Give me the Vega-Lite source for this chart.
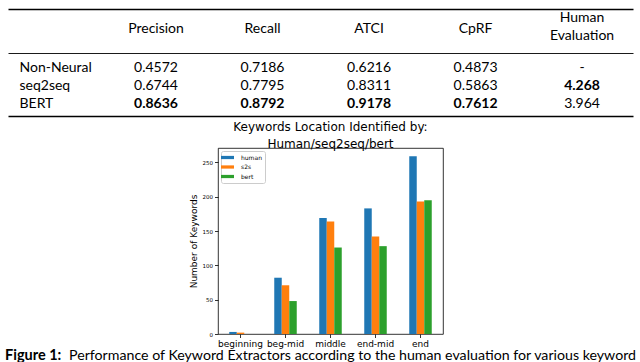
{
  "$schema": "https://vega.github.io/schema/vega-lite/v6.json",
  "background": "white",
  "padding": {"left": 5, "top": 9, "right": 0, "bottom": 0},
  "config": {
    "view": {"stroke": null},
    "text": {"color": "black"},
    "axis": {"labelColor": "black", "titleColor": "black", "tickColor": "black", "domainColor": "black", "grid": false}
  },
  "resolve": {"scale": {"color": "independent"}, "legend": {"color": "independent"}},
  "spacing": 4,
  "vconcat": [
    {
      "width": 625,
      "height": 40,
      "data": {"values": [
        {"metric": "Precision", "lines": 1}, {"metric": "Recall", "lines": 1}, {"metric": "ATCI", "lines": 1}, {"metric": "CpRF", "lines": 1}, {"metric": "Human Evaluation", "lines": 2}
      ]},
      "encoding": {
        "x": {"field": "metric", "type": "nominal", "sort": null,
          "scale": {"type": "point", "domain": ["Precision", "Recall", "ATCI", "CpRF", "Human Evaluation"], "padding": 0.934, "align": 0.744},
          "axis": {"orient": "top", "domain": true, "domainWidth": 1.6, "labels": false, "ticks": false, "title": null}},
        "text": {"field": "metric"}
      },
      "layer": [
        {
          "transform": [{"filter": "datum.lines == 1"}],
          "mark": {"type": "text", "font": "Lato", "fontSize": 14, "baseline": "middle", "dy": 0}
        },
        {
          "transform": [{"filter": "datum.lines == 2"}],
          "mark": {"type": "text", "font": "Lato", "fontSize": 14, "lineBreak": " ", "lineHeight": 18, "baseline": "middle", "dy": -11}
        }
      ]
    },
    {
      "width": 625,
      "height": 63,
      "data": {"values": [
        {"model": "Non-Neural", "metric": "Precision", "value": "0.4572", "bold": false},
        {"model": "Non-Neural", "metric": "Recall", "value": "0.7186", "bold": false},
        {"model": "Non-Neural", "metric": "ATCI", "value": "0.6216", "bold": false},
        {"model": "Non-Neural", "metric": "CpRF", "value": "0.4873", "bold": false},
        {"model": "Non-Neural", "metric": "Human Evaluation", "value": "-", "bold": false},
        {"model": "seq2seq", "metric": "Precision", "value": "0.6744", "bold": false},
        {"model": "seq2seq", "metric": "Recall", "value": "0.7795", "bold": false},
        {"model": "seq2seq", "metric": "ATCI", "value": "0.8311", "bold": false},
        {"model": "seq2seq", "metric": "CpRF", "value": "0.5863", "bold": false},
        {"model": "seq2seq", "metric": "Human Evaluation", "value": "4.268", "bold": true},
        {"model": "BERT", "metric": "Precision", "value": "0.8636", "bold": true},
        {"model": "BERT", "metric": "Recall", "value": "0.8792", "bold": true},
        {"model": "BERT", "metric": "ATCI", "value": "0.9178", "bold": true},
        {"model": "BERT", "metric": "CpRF", "value": "0.7612", "bold": true},
        {"model": "BERT", "metric": "Human Evaluation", "value": "3.964", "bold": false}
      ]},
      "resolve": {"axis": {"x": "independent"}},
      "layer": [
        {
          "transform": [{"filter": "!datum.bold"}],
          "mark": {"type": "text", "font": "Lato", "fontSize": 14, "baseline": "middle"},
          "encoding": {
            "x": {"field": "metric", "type": "nominal",
              "scale": {"type": "point", "domain": ["Precision", "Recall", "ATCI", "CpRF", "Human Evaluation"], "padding": 0.934, "align": 0.744},
              "axis": {"orient": "top", "domain": true, "domainWidth": 0.9, "labels": false, "ticks": false, "title": null}},
            "y": {"field": "model", "type": "nominal",
              "scale": {"type": "band", "domain": ["Non-Neural", "seq2seq", "BERT"], "paddingInner": 0, "paddingOuter": 0.25, "align": 0.69},
              "axis": {"orient": "left", "domain": false, "ticks": false, "labelAlign": "left", "labelPadding": -11, "labelFont": "Lato", "labelFontSize": 14, "title": null}},
            "text": {"field": "value"}
          }
        },
        {
          "transform": [{"filter": "datum.bold"}],
          "mark": {"type": "text", "font": "Lato", "fontSize": 14, "fontWeight": "bold", "baseline": "middle"},
          "encoding": {
            "x": {"field": "metric", "type": "nominal",
              "scale": {"type": "point", "domain": ["Precision", "Recall", "ATCI", "CpRF", "Human Evaluation"], "padding": 0.934, "align": 0.744},
              "axis": {"orient": "bottom", "domain": true, "domainWidth": 1.6, "labels": false, "ticks": false, "title": null}},
            "y": {"field": "model", "type": "nominal"},
            "text": {"field": "value"}
          }
        }
      ]
    },
    {
      "spacing": -1,
      "resolve": {"scale": {"color": "independent"}, "legend": {"color": "independent"}},
      "vconcat": [
        {
          "spacing": 0,
          "resolve": {"scale": {"color": "independent"}, "legend": {"color": "independent"}},
          "hconcat": [
            {
              "width": 180,
              "height": 186,
              "data": {"values": []},
              "mark": "text",
              "encoding": {}
            },
            {
              "width": 225,
              "height": 186,
              "view": {"stroke": "black", "strokeWidth": 0.8},
              "title": {
                "text": ["Keywords Location Identified by:", "Human/seq2seq/bert"],
                "font": "DejaVu Sans", "fontSize": 12, "fontWeight": "normal", "color": "black",
                "lineHeight": 17.5, "anchor": "middle", "frame": "group", "offset": -12, "baseline": "alphabetic"
              },
              "data": {"values": [
                {"location": "beginning", "source": "human", "count": 3},
                {"location": "beginning", "source": "s2s", "count": 2},
                {"location": "beginning", "source": "bert", "count": 0},
                {"location": "beg-mid", "source": "human", "count": 82},
                {"location": "beg-mid", "source": "s2s", "count": 71},
                {"location": "beg-mid", "source": "bert", "count": 48},
                {"location": "middle", "source": "human", "count": 169},
                {"location": "middle", "source": "s2s", "count": 164},
                {"location": "middle", "source": "bert", "count": 126},
                {"location": "end-mid", "source": "human", "count": 183},
                {"location": "end-mid", "source": "s2s", "count": 142},
                {"location": "end-mid", "source": "bert", "count": 128},
                {"location": "end", "source": "human", "count": 259},
                {"location": "end", "source": "s2s", "count": 193},
                {"location": "end", "source": "bert", "count": 195}
              ]},
              "mark": {"type": "bar"},
              "encoding": {
                "x": {"field": "location", "type": "nominal",
                  "sort": ["beginning", "beg-mid", "middle", "end-mid", "end"],
                  "scale": {"paddingInner": 0.5, "paddingOuter": 0.25},
                  "axis": {"domain": false, "labelAngle": 0, "labelFont": "DejaVu Sans", "labelFontSize": 9, "labelPadding": 1.5, "tickSize": 3.5, "tickWidth": 0.8, "title": null}},
                "xOffset": {"field": "source", "type": "nominal", "sort": ["human", "s2s", "bert"],
                  "scale": {"paddingInner": 0, "paddingOuter": 0}},
                "y": {"field": "count", "type": "quantitative",
                  "scale": {"domain": [0, 271], "nice": false, "zero": true},
                  "axis": {"domain": false, "values": [0, 50, 100, 150, 200, 250], "labelFont": "DejaVu Sans", "labelFontSize": 5.5, "labelPadding": 2, "tickSize": 3.5, "tickWidth": 0.8,
                    "title": "Number of Keywords", "titleFont": "DejaVu Sans", "titleFontSize": 9, "titleFontWeight": "normal", "titlePadding": 4}},
                "color": {"field": "source", "type": "nominal",
                  "scale": {"domain": ["human", "s2s", "bert"], "range": ["#1f77b4", "#ff7f0e", "#2ca02c"]},
                  "legend": {"orient": "top-left", "offset": 3, "title": null, "padding": 3,
                    "fillColor": "white", "strokeColor": "#cccccc", "cornerRadius": 2,
                    "symbolType": "M-2,-0.5H2V0.5H-2Z", "symbolSize": 42, "symbolStrokeWidth": 0,
                    "labelFont": "DejaVu Sans", "labelFontSize": 6, "labelColor": "black", "labelOffset": 10, "rowPadding": 2.5}}
              }
            }
          ]
        },
        {
          "width": 635,
          "height": 4,
          "data": {"values": [{"label": "Figure 1:", "caption": "Performance of Keyword Extractors according to the human evaluation for various keywords"}]},
          "layer": [
            {
              "mark": {"type": "text", "font": "Lato", "fontSize": 14.5, "fontWeight": "bold", "align": "left", "baseline": "middle", "dx": -3},
              "encoding": {
                "x": {"datum": 0, "type": "quantitative", "scale": {"domain": [0, 1]}, "axis": null},
                "text": {"field": "label"}
              }
            },
            {
              "mark": {"type": "text", "font": "Lato", "fontSize": 14.2, "align": "left", "baseline": "middle", "dx": 61, "limit": 574, "ellipsis": " "},
              "encoding": {
                "x": {"datum": 0, "type": "quantitative", "scale": {"domain": [0, 1]}, "axis": null},
                "text": {"field": "caption"}
              }
            }
          ]
        }
      ]
    }
  ]
}
